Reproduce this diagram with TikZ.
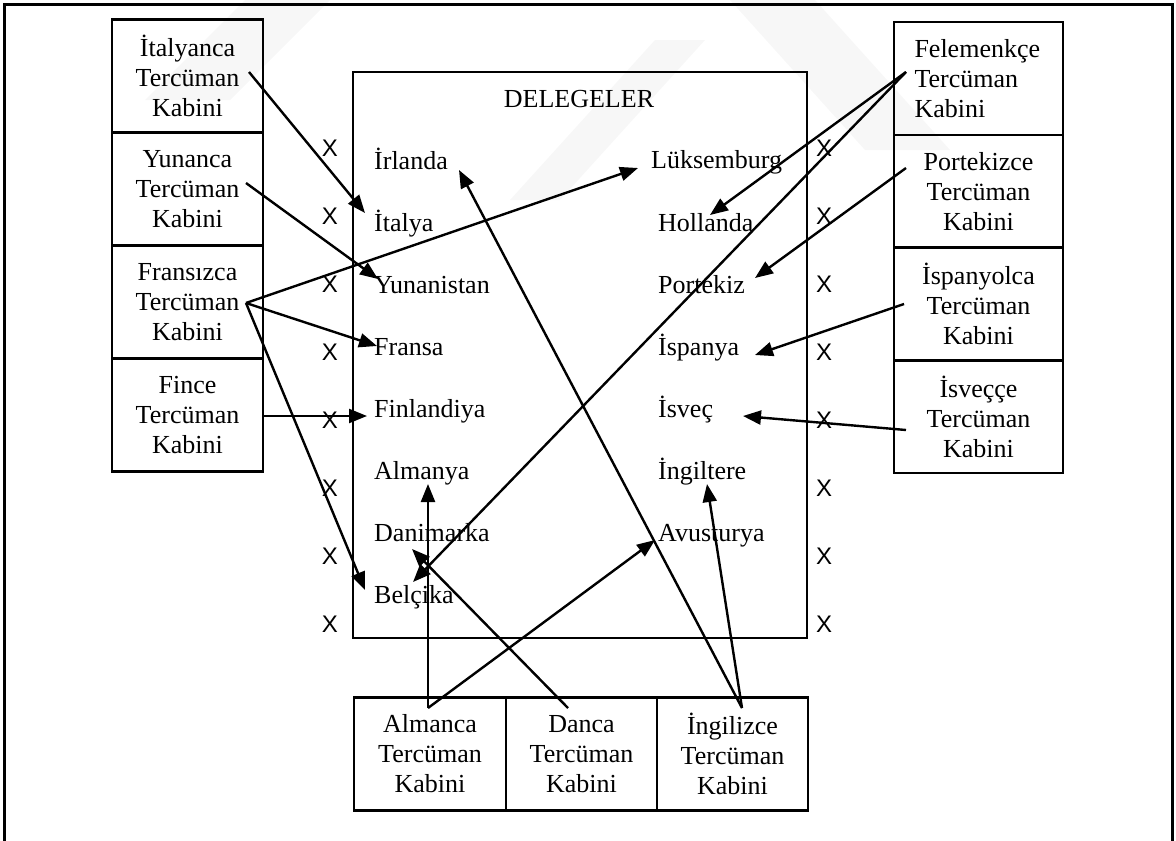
\documentclass[tikz,border=0pt]{standalone}
\usepackage{fontspec}
\setmainfont{Liberation Serif}
\newfontfamily\xfont{Liberation Sans}
\usetikzlibrary{arrows.meta}
\begin{document}
\begin{tikzpicture}[x=1pt,y=-1pt,
  cabin/.style={draw,line width=2.6pt,minimum height=113pt,inner sep=0pt,align=center,
    font=\fontsize{26}{30}\selectfont},
  country/.style={anchor=base west,inner sep=0pt,font=\fontsize{26}{30}\selectfont},
  xmark/.style={inner sep=0pt,font=\xfont\fontsize{24}{24}\selectfont},
  link/.style={line width=2.4pt,-{Triangle[length=18pt,width=14pt]}},
  wm/.style={fill=black!3,draw=none}]
\useasboundingbox (0,0) rectangle (1176,841);
% faint watermark
\fill[wm] (245,0) -- (330,0) -- (230,100) -- (145,100) -- cycle;
\fill[wm] (655,40) -- (705,40) -- (560,200) -- (510,200) -- cycle;
\fill[wm] (730,0) -- (815,0) -- (950,150) -- (865,150) -- cycle;
% outer frame
\draw[line width=3pt] (4,850) -- (4,4) -- (1172,4) -- (1172,850);
% central box
\node[draw,line width=2.6pt,inner sep=0pt,minimum width=454pt,minimum height=566pt] (del) at (580,355) {};
\node[font=\fontsize{26}{30}\selectfont] (title) at (579,99) {DELEGELER};
% left cabins
\node[cabin,minimum width=151pt] (it) at (187.5,76) {İtalyanca\\Tercüman\\Kabini};
\node[cabin,minimum width=151pt] (yu) at (187.5,189) {Yunanca\\Tercüman\\Kabini};
\node[cabin,minimum width=151pt] (fr) at (187.5,302) {Fransızca\\Tercüman\\Kabini};
\node[cabin,minimum width=151pt] (fi) at (187.5,415) {Fince\\Tercüman\\Kabini};
% right cabins
\node[cabin,minimum width=169pt,align=left,text width=128pt] (fe) at (978.5,78.5) {Felemenkçe\\Tercüman\\Kabini};
\node[cabin,minimum width=169pt] (pt) at (978.5,191.5) {Portekizce\\Tercüman\\Kabini};
\node[cabin,minimum width=169pt] (es) at (978.5,304) {İspanyolca\\Tercüman\\Kabini};
\node[cabin,minimum width=169pt] (sv) at (978.5,416.5) {İsveççe\\Tercüman\\Kabini};
% bottom cabins
\node[cabin,minimum width=152pt] (al) at (430,754) {Almanca\\Tercüman\\Kabini};
\node[cabin,minimum width=151pt] (da) at (581.5,754) {Danca\\Tercüman\\Kabini};
\node[cabin,minimum width=151pt] (en) at (732.5,754) {İngilizce\\Tercüman\\Kabini};
% countries left
\node[country] (irl) at (374,169) {İrlanda};
\node[country] (ita) at (374,231) {İtalya};
\node[country] (yun) at (374,293) {Yunanistan};
\node[country] (fra) at (374,355) {Fransa};
\node[country] (fin) at (374,417) {Finlandiya};
\node[country] (alm) at (374,479) {Almanya};
\node[country] (dan) at (374,541) {Danimarka};
\node[country] (bel) at (374,603) {Belçika};
% countries right
\node[country] (lux) at (651,168) {Lüksemburg};
\node[country] (hol) at (658,231) {Hollanda};
\node[country] (por) at (658,293) {Portekiz};
\node[country] (isp) at (658,355) {İspanya};
\node[country] (isv) at (658,417) {İsveç};
\node[country] (ing) at (658,479) {İngiltere};
\node[country] (avu) at (658,541) {Avusturya};
% X marks
\foreach \i in {0,...,7} {
  \node[xmark] (xl\i) at (330,148+68*\i) {X};
  \node[xmark] (xr\i) at (824,148+68*\i) {X};
}
% arrow end points
\coordinate (itS) at (249,72);  \coordinate (itE) at (365,213);
\coordinate (yuS) at (246,183); \coordinate (yuE) at (378,279);
\coordinate (frS) at (246,303); \coordinate (luE) at (638,168);
\coordinate (frE) at (377,346); \coordinate (beE) at (365,590);
\coordinate (fiS) at (263,416); \coordinate (fiE) at (367,416);
\coordinate (feS) at (906,72);  \coordinate (hoE) at (710,215);
\coordinate (beF) at (413,582);
\coordinate (ptS) at (906,168); \coordinate (ptE) at (755,278);
\coordinate (esS) at (904,304); \coordinate (esE) at (755,355);
\coordinate (svS) at (906,430); \coordinate (svE) at (743,416);
\coordinate (alS) at (428,708); \coordinate (alE) at (428,484);
\coordinate (avE) at (655,540);
\coordinate (daS) at (568,708); \coordinate (daE) at (412,549);
\coordinate (enS) at (742,708); \coordinate (ngE) at (707,484);
\coordinate (irE) at (459,170);
% arrows
\draw[link] (itS) -- (itE);
\draw[link] (yuS) -- (yuE);
\draw[link] (frS) -- (luE);
\draw[link] (frS) -- (frE);
\draw[link] (frS) -- (beE);
\draw[link] (fiS) -- (fiE);
\draw[link] (feS) -- (hoE);
\draw[link] (feS) -- (beF);
\draw[link] (ptS) -- (ptE);
\draw[link] (esS) -- (esE);
\draw[link] (svS) -- (svE);
\draw[link] (alS) -- (alE);
\draw[link] (alS) -- (avE);
\draw[link] (daS) -- (daE);
\draw[link] (enS) -- (ngE);
\draw[link] (enS) -- (irE);
\end{tikzpicture}
\end{document}
